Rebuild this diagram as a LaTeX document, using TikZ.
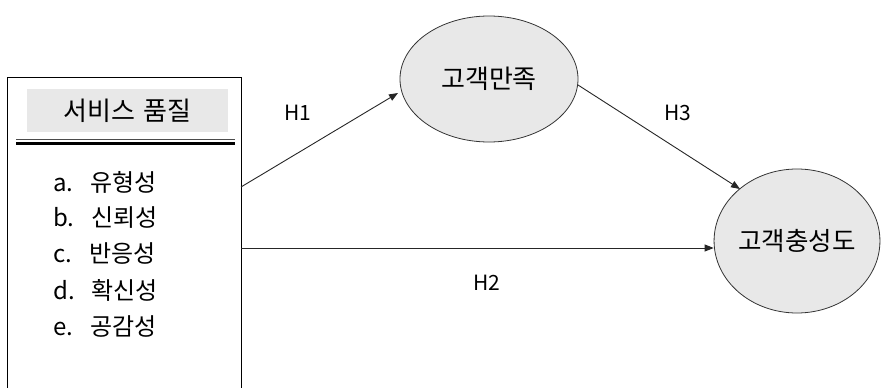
\documentclass[tikz,border=0pt]{standalone}
\usepackage{fontspec}
\setmainfont{Noto Sans CJK KR}
\usetikzlibrary{arrows.meta,shapes.geometric}
\definecolor{fillgray}{HTML}{E8E8E8}
\newcommand{\itemgap}{\hspace{17pt}}
\begin{document}
\begin{tikzpicture}[x=1pt,y=-1pt,
  ell/.style={draw=black!80,fill=fillgray,line width=0.8pt},
  conn/.style={draw=black!85,line width=0.9pt,-{Triangle[length=9pt,width=7pt]}},
  itemtxt/.style={anchor=west,font=\fontsize{24}{26}\selectfont,inner sep=0pt},
  hlab/.style={font=\fontsize{21}{24}\selectfont,inner sep=0pt}]
\useasboundingbox (0,0) rectangle (881,388);
\begin{scope}
\clip (0,0) rectangle (881,388);
\draw[line width=1pt,fill=white] (7,77) rectangle (241,400);
\end{scope}
\node[fill=fillgray,minimum width=201pt,minimum height=43pt,inner sep=0pt,font=\fontsize{26}{28}\selectfont] (hdr) at (127.5,110.5) {서비스\hspace{9pt}품질};
\draw[line width=1pt,black!70] (16,139) -- (235,139);
\draw[line width=3pt] (16,143.5) -- (235,143.5);
\node[itemtxt] (ia) at (53,182) {a.\itemgap 유형성};
\node[itemtxt] (ib) at (53,218) {b.\itemgap 신뢰성};
\node[itemtxt] (ic) at (53,254) {c.\itemgap 반응성};
\node[itemtxt] (id) at (53,290) {d.\itemgap 확신성};
\node[itemtxt] (ie) at (53,326) {e.\itemgap 공감성};
\coordinate (s1) at (241,187);
\coordinate (s2) at (241,248);
\node[ell,ellipse,minimum width=178pt,minimum height=126pt,inner sep=0pt,font=\fontsize{26}{28}\selectfont] (sat) at (489,79) {고객만족};
\node[ell,ellipse,minimum width=162pt,minimum height=144pt,inner sep=0pt,font=\fontsize{25.5}{28}\selectfont] (loy) at (797,241) {고객충성도};
\coordinate (t1) at (398,93);
\coordinate (e1) at (578,85);
\coordinate (e2) at (740,189);
\draw[conn] (s1) -- (t1);
\draw[conn] (s2) -- (loy.west |- s2);
\draw[conn] (e1) -- (e2);
\node[hlab] (h1) at (298,113) {H1};
\node[hlab] (h3) at (678,113) {H3};
\node[hlab] (h2) at (487,283) {H2};
\end{tikzpicture}
\end{document}
